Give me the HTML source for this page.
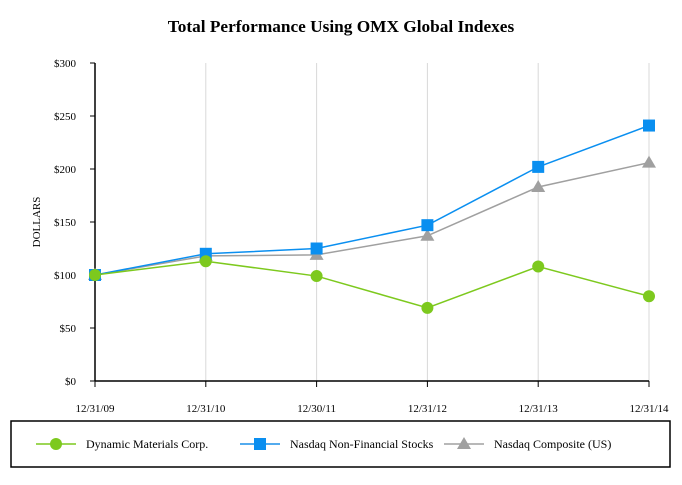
<!DOCTYPE html>
<html><head><meta charset="utf-8"><style>
body{margin:0;background:#fff;}
svg text{font-family:"Liberation Serif",serif;fill:#000;}
</style></head><body>
<svg id="chart" width="682" height="480" xmlns="http://www.w3.org/2000/svg">
<text x="341" y="32" text-anchor="middle" font-size="17.3" font-weight="bold">Total Performance Using OMX Global Indexes</text>
<text transform="translate(40,222) rotate(-90)" text-anchor="middle" font-size="11">DOLLARS</text>
<g id="grid"></g><g id="axes"></g><g id="series"></g>
<rect x="11" y="421" width="659" height="46" fill="none" stroke="#000" stroke-width="1.5"/>
<g>
<line x1="36" y1="444" x2="76" y2="444" stroke="#7dc91e" stroke-width="1.5"/><circle cx="56" cy="444" r="6" fill="#7dc91e"/>
<text x="86" y="448" font-size="12">Dynamic Materials Corp.</text></g>
<g>
<line x1="240" y1="444" x2="280" y2="444" stroke="#1a8fe8" stroke-width="1.5"/><rect x="254" y="438" width="12" height="12" fill="#0a8ff0"/>
<text x="290" y="448" font-size="12">Nasdaq Non-Financial Stocks</text></g>
<g>
<line x1="444" y1="444" x2="484" y2="444" stroke="#a0a0a0" stroke-width="1.5"/><polygon points="464,437 471,449 457,449" fill="#a0a0a0"/>
<text x="494" y="448" font-size="12">Nasdaq Composite (US)</text></g>
</svg>
<script>
const categories=["12/31/09","12/31/10","12/30/11","12/31/12","12/31/13","12/31/14"];
const dynamicVals=[100,113,99,69,108,80];
const nonFinVals=[100,120,125,147,202,241];
const compositeVals=[100,118,119,137,183,206];
const yTicks=[0,50,100,150,200,250,300];
const NS="http://www.w3.org/2000/svg";
const x0=95,x1=649,yb=381,yt=63;
const xs=i=>x0+i*(x1-x0)/(categories.length-1);
const ys=v=>yb-v*(yb-yt)/300;
function mk(tag,attrs,parent){const e=document.createElementNS(NS,tag);for(const k in attrs)e.setAttribute(k,attrs[k]);parent.appendChild(e);return e;}
const grid=document.getElementById('grid'),axes=document.getElementById('axes'),ser=document.getElementById('series');
categories.forEach((c,i)=>{
 if(i>0){const g=mk('line',{x1:xs(i),x2:xs(i),y1:yt,y2:yb,stroke:'#d8d8d8'},grid);
 
 }
 const t=mk('line',{x1:xs(i),x2:xs(i),y1:yb,y2:yb+6,stroke:'#000'},axes);
 
 
 const l=mk('text',{x:xs(i),y:yb+31,'text-anchor':'middle','font-size':'11'},axes);l.textContent=c;
 
 
});
yTicks.forEach(v=>{
 const t=mk('line',{x1:x0-5,x2:x0,y1:ys(v),y2:ys(v),stroke:'#000'},axes);
 
 
 const l=mk('text',{x:x0-19,y:ys(v)+4,'text-anchor':'end','font-size':'11'},axes);l.textContent='$'+v;
 
 
});
const ya=mk('line',{x1:x0,x2:x0,y1:yt,y2:yb,stroke:'#000','stroke-width':1.5},axes);


const xa=mk('line',{x1:x0,x2:x1,y1:yb,y2:yb,stroke:'#000','stroke-width':1.5},axes);


function series(vals,color,shape,name){
 const g=mk('g',{},ser);
 
 
 mk('polyline',{points:vals.map((v,i)=>xs(i)+','+ys(v)).join(' '),fill:'none',stroke:color,'stroke-width':1.5},g);
 vals.forEach((v,i)=>{const x=xs(i),y=ys(v);let m;
  if(shape==='c')m=mk('circle',{cx:x,cy:y,r:6,fill:color},g);
  else if(shape==='s')m=mk('rect',{x:x-6,y:y-6,width:12,height:12,fill:color},g);
  else m=mk('polygon',{points:`${x},${y-7} ${x+7},${y+5} ${x-7},${y+5}`,fill:color},g);
  
  
 });
}
series(compositeVals,'#a0a0a0','t','nasdaq-composite-series');
series(nonFinVals,'#0a8ff0','s','nasdaq-nonfin-series');
series(dynamicVals,'#7dc91e','c','dynamic-materials-series');
</script>
</body></html>
